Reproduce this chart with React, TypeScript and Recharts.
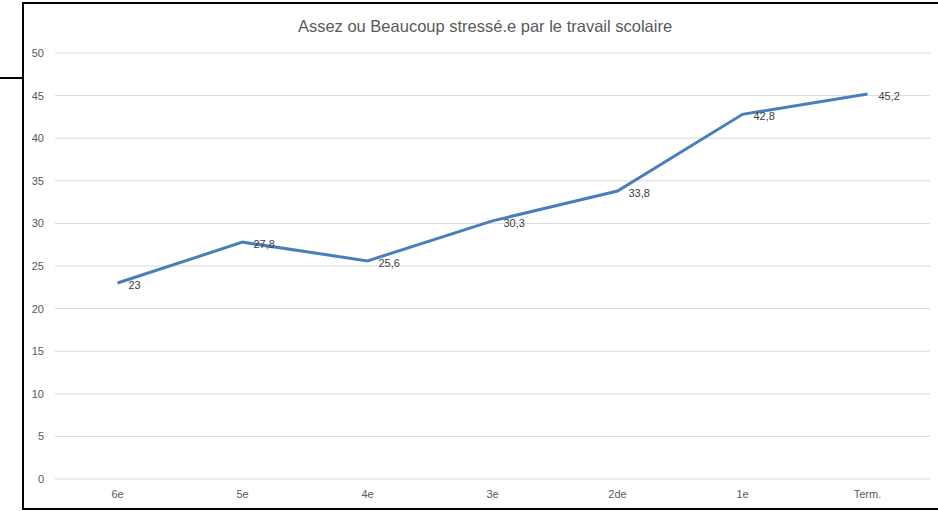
import React from "react";
import { LineChart, Line, XAxis, YAxis, CartesianGrid, LabelList } from "recharts";

const categories = ["6e", "5e", "4e", "3e", "2de", "1e", "Term."];
const values = [23, 27.8, 25.6, 30.3, 33.8, 42.8, 45.2];
const yTicks = [0, 5, 10, 15, 20, 25, 30, 35, 40, 45, 50];
const title = "Assez ou Beaucoup stressé.e par le travail scolaire";

const data = categories.map((c, i) => ({ name: c, value: values[i] }));

const fmt = (v: number) => String(v).replace(".", ",");

const renderLabel = (props: any) => {
  const { x, y, value } = props;
  return (
    <text
      x={x + 11}
      y={y + 2}
      dominantBaseline="central"
      fontSize={11}
      fill="#404040"
      fontFamily="'Liberation Sans', Arial, sans-serif"
    >
      {fmt(value)}
    </text>
  );
};

export default function App() {
  return (
    <div
      style={{
        position: "absolute",
        left: 0,
        top: 0,
        width: 938,
        height: 511,
        background: "#fff",
        overflow: "hidden",
      }}
    >
      <div style={{ position: "absolute", left: 22, top: 2, width: 916, height: 2, background: "#000" }} />
      <div style={{ position: "absolute", left: 22, top: 2, width: 2, height: 508, background: "#000" }} />
      <div style={{ position: "absolute", left: 22, top: 508, width: 916, height: 2, background: "#000" }} />
      <div style={{ position: "absolute", left: 0, top: 77, width: 23, height: 2, background: "#000" }} />
      <div
        style={{
          position: "absolute",
          left: 0,
          top: 16,
          width: 970,
          textAlign: "center",
          fontSize: 16.5,
          color: "#595959",
          fontFamily: "'Liberation Sans', Arial, sans-serif",
          lineHeight: "20px",
        }}
      >
        {title}
      </div>
      <div style={{ position: "absolute", left: 0, top: 0 }}>
        <LineChart
          width={938}
          height={511}
          data={data}
          margin={{ top: 53, right: 8, bottom: 0, left: 0 }}
        >
          <CartesianGrid vertical={false} stroke="#d9d9d9" strokeWidth={1} />
          <XAxis
            dataKey="name"
            height={32}
            axisLine={false}
            tickLine={false}
            tickSize={0}
            tickMargin={11}
            padding={{ left: 62.5, right: 62.5 }}
            tick={{ fontSize: 11, fill: "#595959", fontFamily: "'Liberation Sans', Arial, sans-serif" }}
            interval={0}
          />
          <YAxis
            width={55}
            domain={[0, 50]}
            ticks={yTicks}
            axisLine={false}
            tickLine={false}
            tickSize={0}
            tickMargin={11}
            tick={{ fontSize: 11, fill: "#595959", fontFamily: "'Liberation Sans', Arial, sans-serif" }}
          />
          <Line
            type="linear"
            dataKey="value"
            stroke="#4A7EBB"
            strokeWidth={3}
            dot={false}
            activeDot={false}
            isAnimationActive={false}
          >
            <LabelList dataKey="value" content={renderLabel} />
          </Line>
        </LineChart>
      </div>
    </div>
  );
}
